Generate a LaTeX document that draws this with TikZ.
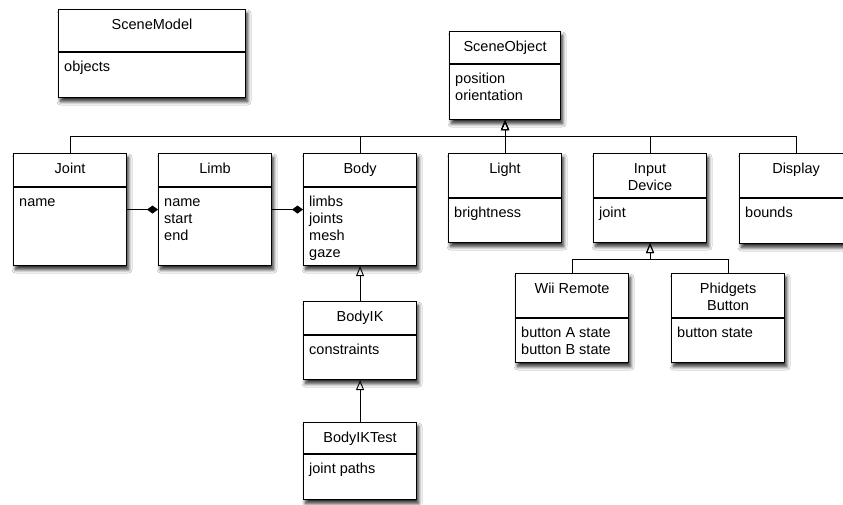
\documentclass[tikz,border=0pt]{standalone}
\usepackage{fontspec}
\setmainfont{Liberation Sans}
\usetikzlibrary{arrows.meta,shadows.blur}

\tikzset{
  classbox/.style={draw=black, line width=1.1pt, fill=white, rectangle,
    inner sep=0pt, anchor=north west,
    blur shadow={shadow xshift=2pt, shadow yshift=-4pt,
      shadow blur radius=3.5pt, shadow opacity=85, shadow blur steps=8}},
  umltext/.style={inner sep=0pt, font=\fontsize{14.5}{17.3}\selectfont},
  classtitle/.style={umltext, anchor=north, align=center},
  classattrs/.style={umltext, anchor=north west, align=left},
  compartment/.style={line width=1.1pt},
  inherit/.style={line width=0.9pt,
    -{Triangle[open, length=10pt, width=8pt, line width=0.9pt]}},
  compose/.style={line width=0.9pt, -{Diamond[length=11pt, width=8pt]}},
}

% #1 name, #2 left, #3 top, #4 width, #5 height,
% #6 height of the title compartment, #7 class name, #8 attributes
\newcommand{\umlclass}[8]{%
  \node[classbox, minimum width=#4pt, minimum height=#5pt] (#1) at (#2,#3) {};
  \draw[compartment] ([yshift=-#6pt]#1.north west) -- ([yshift=-#6pt]#1.north east);
  \node[classtitle] (#1-title) at ([yshift=-7.9pt]#1.north) {\strut #7};
  \node[classattrs] (#1-attrs) at ([xshift=6pt,yshift={-(#6+6.7)*1pt}]#1.north west) {\strut #8};
}

\begin{document}
\begin{tikzpicture}[x=1pt, y=-1pt]
  \fill[white] (0,0) rectangle (843,504);
  \useasboundingbox (0,0) rectangle (843,504);

  % classes
  \umlclass{scenemodel}{58}{9}{187}{88}{43}{SceneModel}{objects}
  \umlclass{sceneobject}{449}{31}{111}{88}{33}{SceneObject}{position\\orientation}
  \umlclass{joint}{13}{153}{113}{112}{34}{Joint}{name}
  \umlclass{limb}{158}{153}{113}{112}{34}{Limb}{name\\start\\end}
  \umlclass{body}{303}{153}{113}{112}{34}{Body}{limbs\\joints\\mesh\\gaze}
  \umlclass{light}{448}{153}{113}{89}{45}{Light}{brightness}
  \umlclass{inputdevice}{593}{153}{113}{89}{45}{Input\\Device}{joint}
  \umlclass{display}{739}{153}{113}{90}{45}{Display}{bounds}
  \umlclass{wiiremote}{515}{273}{113}{89}{45}{Wii Remote}{button A state\\button B state}
  \umlclass{phidgets}{671}{273}{113}{89}{45}{Phidgets\\Button}{button state}
  \umlclass{bodyik}{303}{301}{113}{78}{34}{BodyIK}{constraints}
  \umlclass{bodyiktest}{303}{422}{113}{77}{32}{BodyIKTest}{joint paths}

  % generalisation of SceneObject
  \coordinate (topbus) at (0,136);
  \foreach \c in {joint,body,light,inputdevice,display}
    \draw[inherit] (\c.north) -- (\c.north |- topbus) -| (sceneobject.south);

  % generalisation of Input Device
  \coordinate (inputbus) at (0,259);
  \foreach \c in {wiiremote,phidgets}
    \draw[inherit] (\c.north) -- (\c.north |- inputbus) -| (inputdevice.south);

  % Body hierarchy
  \draw[inherit] (bodyik.north) -- (body.south);
  \draw[inherit] (bodyiktest.north) -- (bodyik.south);

  % composition
  \draw[compose] (joint.east) -- (limb.west);
  \draw[compose] (limb.east) -- (body.west);
\end{tikzpicture}
\end{document}
